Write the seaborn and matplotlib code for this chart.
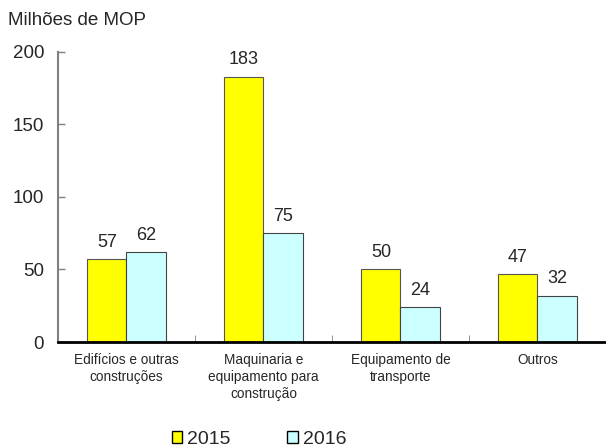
import matplotlib
matplotlib.use('Agg')
import matplotlib.pyplot as plt
import seaborn as sns
import pandas as pd
import numpy as np

categories = ['Edifícios e outras\nconstruções', 'Maquinaria e\nequipamento para\nconstrução',
              'Equipamento de\ntransporte', 'Outros']
years = ['2015', '2016']
values_2015 = [57, 183, 50, 47]
values_2016 = [62, 75, 24, 32]
colors = ['#FFFF00', '#CCFFFF']
edges = ['#555555', '#444444']

df = pd.DataFrame({
    'cat': categories * 2,
    'year': [years[0]] * 4 + [years[1]] * 4,
    'val': values_2015 + values_2016,
})

sns.set_style('white')
plt.rcParams['font.family'] = ['Liberation Sans', 'DejaVu Sans']

fig = plt.figure(figsize=(6.06, 4.48), dpi=100)
ax = fig.add_axes([0.0957, 0.2366, 0.9043, 0.6474])

sns.barplot(data=df, x='cat', y='val', hue='year', palette=colors, width=0.57,
            ax=ax, legend=False, saturation=1)

for i, cont in enumerate(ax.containers):
    for bar in cont:
        bar.set_edgecolor(edges[i])
        bar.set_linewidth(0.8)
    ax.bar_label(cont, labels=[str(v) for v in (values_2015 if i == 0 else values_2016)],
                 padding=6, fontsize=13)

ax.set_xlim(-0.5, 3.5)
ax.set_ylim(0, 200)
ax.set_yticks([0, 50, 100, 150, 200])
ax.tick_params(axis='y', labelsize=13.5, length=5, width=1, color='#808080', direction='in', pad=10, left=True)
ax.set_xticks(range(4))
ax.set_xticklabels(categories, fontsize=9.8, linespacing=1.25)
ax.tick_params(axis='x', length=0, pad=8)
ax.set_xticks(np.arange(-0.5, 3.5, 1.0), minor=True)
ax.tick_params(axis='x', which='minor', length=5, direction='in', color='#808080', bottom=True)
ax.set_xlabel('')
ax.set_ylabel('')

for s in ['top', 'right']:
    ax.spines[s].set_visible(False)
ax.spines['left'].set_color('#808080')
ax.spines['left'].set_linewidth(1.5)
ax.spines['bottom'].set_color('black')
ax.spines['bottom'].set_linewidth(2)

fig.text(0.013, 0.955, 'Milhões de MOP', fontsize=13.5, ha='left', va='center')

handles = [plt.Rectangle((0, 0), 1, 1, facecolor=colors[i], edgecolor='black', linewidth=1) for i in range(2)]
fig.legend(handles, years, loc='center', bbox_to_anchor=(0.427, 0.02), ncol=2, frameon=False,
           fontsize=14, handlelength=0.55, handleheight=0.55, handletextpad=0.25, columnspacing=2.9)

fig.savefig('out.png', dpi=100)
